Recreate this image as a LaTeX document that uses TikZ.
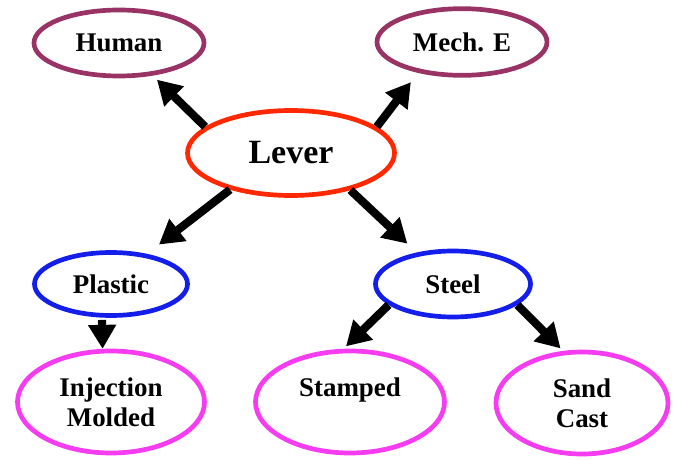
\documentclass[tikz,border=0pt]{standalone}
\usepackage{fontspec}
\setmainfont{Liberation Serif}
\usetikzlibrary{shapes.geometric,arrows.meta}
\definecolor{usecol}{RGB}{153,51,102}
\definecolor{levercol}{RGB}{255,40,0}
\definecolor{matcol}{RGB}{20,30,235}
\definecolor{proccol}{RGB}{245,60,240}
\begin{document}
\begin{tikzpicture}[x=0.03cm,y=-0.03cm,
	bub/.style={ellipse,draw,line width=4pt,inner sep=0pt,align=center,
		font=\bfseries\fontsize{23}{25.6}\selectfont},
	conn/.style={line width=7pt,-{Triangle[width=0.8cm,length=0.72cm]}}]
	\useasboundingbox (0,0) rectangle (678,460);
	% top row
	\node[bub,draw=usecol,minimum width=5.1cm,minimum height=1.98cm] (human) at (119,43) {Human};
	\node[bub,draw=usecol,minimum width=5.1cm,minimum height=2cm] (mech) at (462,42) {Mech. E};
	\node[bub,draw=levercol,minimum width=6.21cm,minimum height=2.55cm,font=\bfseries\fontsize{29}{33}\selectfont] (lever) at (291,153) {Lever};
	% materials
	\node[bub,draw=matcol,minimum width=4.59cm,minimum height=1.89cm] (plastic) at (111,284) {Plastic};
	\node[bub,draw=matcol,minimum width=4.65cm,minimum height=1.98cm] (steel) at (453,284) {Steel};
	% processes
	\node[bub,draw=proccol,minimum width=5.61cm,minimum height=3.06cm] (inj) at (111,402) {Injection\\Molded};
	\node[bub,draw=proccol,minimum width=5.67cm,minimum height=3.06cm] (stamp) at (350,402) {Stamped\\\mbox{}};
	\node[bub,draw=proccol,minimum width=5.16cm,minimum height=3.06cm] (sand) at (582,403) {Sand\\Cast};
	% arrows
	\draw[conn,shorten >=5] (lever.163)--(human.-44);
	\draw[conn,shorten >=10] (lever.17)--(mech.215);
	\draw[conn,shorten >=13] (lever.211)--(plastic.40);
	\draw[conn,shorten >=11] (lever.-32)--(steel.139);
	\draw[conn,shorten <=2] (plastic.-105)--(inj.99);
	\draw[conn,shorten >=3] (steel.198)--(stamp.97);
	\draw[conn,shorten >=3] (steel.-18)--(sand.110);
\end{tikzpicture}
\end{document}
